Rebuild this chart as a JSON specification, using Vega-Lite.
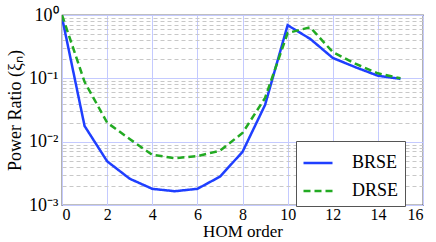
{
  "$schema": "https://vega.github.io/schema/vega-lite/v6.json",
  "autosize": "none",
  "width": 361,
  "height": 190,
  "padding": {"left": 62, "top": 15, "right": 13, "bottom": 37},
  "background": "white",
  "config": {
    "font": "Liberation Serif",
    "view": {"stroke": "black", "strokeWidth": 1.2},
    "axis": {"domain": false, "ticks": false},
    "legend": {"labelFont": "Liberation Serif"}
  },
  "data": {"values": [
    {"n": 0, "r": 0.92, "s": "BRSE"},
    {"n": 1, "r": 0.0177, "s": "BRSE"},
    {"n": 2, "r": 0.0049, "s": "BRSE"},
    {"n": 3, "r": 0.0026, "s": "BRSE"},
    {"n": 4, "r": 0.0018, "s": "BRSE"},
    {"n": 5, "r": 0.00165, "s": "BRSE"},
    {"n": 6, "r": 0.0018, "s": "BRSE"},
    {"n": 7, "r": 0.0028, "s": "BRSE"},
    {"n": 8, "r": 0.0069, "s": "BRSE"},
    {"n": 9, "r": 0.038, "s": "BRSE"},
    {"n": 10, "r": 0.69, "s": "BRSE"},
    {"n": 11, "r": 0.42, "s": "BRSE"},
    {"n": 12, "r": 0.21, "s": "BRSE"},
    {"n": 13, "r": 0.15, "s": "BRSE"},
    {"n": 14, "r": 0.11, "s": "BRSE"},
    {"n": 15, "r": 0.098, "s": "BRSE"},
    {"n": 0, "r": 1.0, "s": "DRSE"},
    {"n": 1, "r": 0.088, "s": "DRSE"},
    {"n": 2, "r": 0.020, "s": "DRSE"},
    {"n": 3, "r": 0.011, "s": "DRSE"},
    {"n": 4, "r": 0.0062, "s": "DRSE"},
    {"n": 5, "r": 0.0055, "s": "DRSE"},
    {"n": 6, "r": 0.0059, "s": "DRSE"},
    {"n": 7, "r": 0.0072, "s": "DRSE"},
    {"n": 8, "r": 0.0137, "s": "DRSE"},
    {"n": 9, "r": 0.049, "s": "DRSE"},
    {"n": 10, "r": 0.52, "s": "DRSE"},
    {"n": 11, "r": 0.64, "s": "DRSE"},
    {"n": 12, "r": 0.26, "s": "DRSE"},
    {"n": 13, "r": 0.17, "s": "DRSE"},
    {"n": 14, "r": 0.12, "s": "DRSE"},
    {"n": 15, "r": 0.10, "s": "DRSE"}
  ]},
  "mark": {"type": "line", "strokeWidth": 2.5, "clip": true},
  "encoding": {
    "x": {
      "field": "n", "type": "quantitative",
      "scale": {"domain": [0, 16], "nice": false, "zero": false},
      "axis": {"values": [0, 2, 4, 6, 8, 10, 12, 14, 16], "title": "HOM order",
        "labelFont": "Liberation Serif", "titleFont": "Liberation Serif", "labelFontSize": 16, "titleFontSize": 17, "titleFontWeight": "normal", "labelColor": "black", "titleColor": "black",
        "titlePadding": 1, "labelPadding": 1, "labelBaseline": "top", "gridColor": "#c4caff", "gridOpacity": 1, "gridWidth": 1}
    },
    "y": {
      "field": "r", "type": "quantitative",
      "scale": {"type": "log", "domain": [0.001, 1], "nice": false},
      "axis": {
        "values": [0.001, 0.002, 0.003, 0.004, 0.005, 0.006, 0.007, 0.008, 0.009, 0.01, 0.02, 0.03, 0.04, 0.05, 0.06, 0.07, 0.08, 0.09, 0.1, 0.2, 0.3, 0.4, 0.5, 0.6, 0.7, 0.8, 0.9, 1],
        "labelExpr": "datum.value == 1 ? '10⁰' : datum.value == 0.1 ? '10⁻¹' : datum.value == 0.01 ? '10⁻²' : datum.value == 0.001 ? '10⁻³' : ''",
        "labelOverlap": false,
        "labelFont": "Liberation Serif", "titleFont": "Liberation Serif", "labelFontSize": 18, "titleFontSize": 18, "titleFontWeight": "normal", "labelColor": "black", "titleColor": "black",
        "labelPadding": 4,
        "title": "Power Ratio (ξₙ)",
        "titlePadding": 4,
        "gridOpacity": 1,
        "gridColor": {"condition": {"test": "indexof([0.001, 0.01, 0.1, 1], datum.value) >= 0", "value": "#c4caff"}, "value": "#c8c8c8"},
        "gridDash": {"condition": {"test": "indexof([0.001, 0.01, 0.1, 1], datum.value) >= 0", "value": []}, "value": [4, 3]}
      }
    },
    "color": {
      "field": "s", "type": "nominal",
      "scale": {"domain": ["BRSE", "DRSE"], "range": ["#1f3fff", "#22aa22"]},
      "legend": {
        "title": null, "orient": "none", "legendX": 234, "legendY": 126,
        "symbolType": "stroke", "symbolSize": 841, "symbolStrokeWidth": 2.5,
        "labelFontSize": 18, "labelFont": "Liberation Serif", "labelColor": "black",
        "labelOffset": 18, "rowPadding": 3, "padding": 6,
        "strokeColor": "#555555", "fillColor": "white", "cornerRadius": 0
      }
    },
    "strokeDash": {
      "field": "s", "type": "nominal",
      "scale": {"domain": ["BRSE", "DRSE"], "range": [[1, 0], [7, 4]]},
      "legend": null
    }
  }
}
